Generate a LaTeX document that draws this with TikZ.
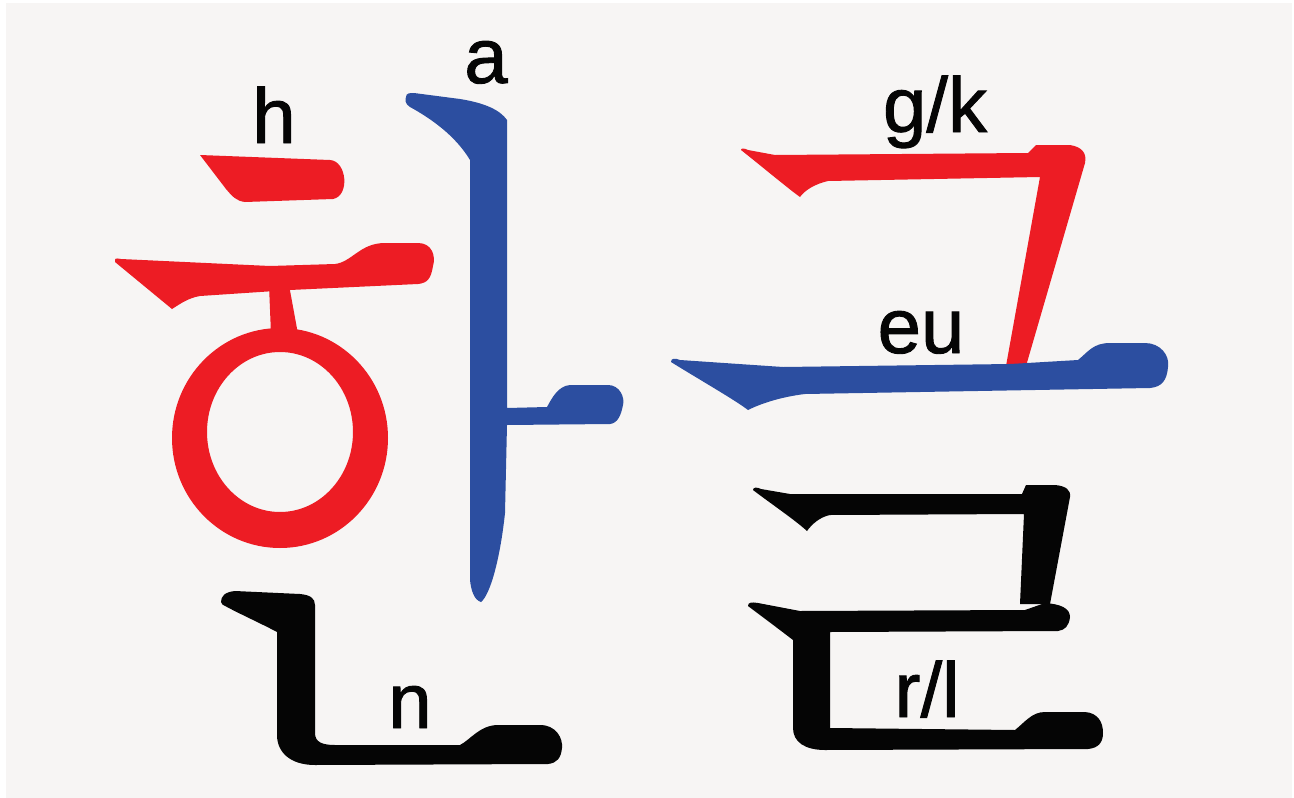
\documentclass[tikz,border=0pt]{standalone}
\usepackage{fontspec}
\setmainfont{Liberation Sans}
\newfontface\labelface{Liberation Sans}[FakeBold=1.2]
\definecolor{hred}{HTML}{ED1C24}
\definecolor{hblue}{HTML}{2C4EA0}
\definecolor{paper}{HTML}{F7F5F4}
\definecolor{ink}{HTML}{050505}
\tikzset{
  jamo red/.style={fill=hred},
  jamo blue/.style={fill=hblue},
  jamo black/.style={fill=ink},
  sound/.style={anchor=base, inner sep=0pt, font=\labelface\fontsize{78}{78}\selectfont, text=ink}
}
\begin{document}
\begin{tikzpicture}[x=1pt,y=-1pt]
\useasboundingbox (0,0) rectangle (1294,798);
\fill[white] (0,0) rectangle (1294,798);
\fill[paper] (6,3) rectangle (1292,798);

% ---- 한 ----
% ㅎ : short top dash
\fill[jamo red] (200,155) -- (330,160) .. controls (347,161) and (350,196) .. (333,199)
  -- (245,202) .. controls (236,201) and (232,196) .. (226,189) -- cycle;
% ㅎ : long horizontal with bulb on the right
\fill[jamo red] (115,262) .. controls (115,258) .. (121,259) -- (270,266) -- (335,264)
  .. controls (352,262) and (360,243) .. (385,243) -- (418,243)
  .. controls (432,243) and (436,256) .. (433,266)
  .. controls (431,278) and (428,283) .. (418,284) -- (290,290) -- (200,296)
  .. controls (188,298) and (180,304) .. (172,309) -- cycle;
% ㅎ : short neck down to the ring
\fill[jamo red] (269,285) -- (271,334) -- (298,334) -- (289,285) -- cycle;
% ㅎ : ring
\fill[jamo red, even odd rule] (280,438) ellipse [x radius=108pt, y radius=110pt]
  (280,432) ellipse [x radius=73pt, y radius=80pt];

% ㅏ
\fill[jamo blue] (406,97) .. controls (406,93) and (410,93) .. (414,93) -- (460,99)
  .. controls (485,103) and (500,110) .. (507,120) -- (507,408) -- (547,407)
  .. controls (552,398) and (558,386) .. (570,385) -- (608,385)
  .. controls (620,385) and (625,398) .. (623,405)
  .. controls (621,415) and (618,423) .. (610,424) -- (507,425) -- (505,513)
  .. controls (500,560) and (490,595) .. (481,602)
  .. controls (474,600) and (471,590) .. (470,580) -- (470,160)
  .. controls (455,135) and (430,118) .. (410,107)
  .. controls (405,104) and (405,100) .. (406,97) -- cycle;

% ㄴ
\fill[jamo black] (221,602) .. controls (221,596) and (225,592) .. (235,591) -- (300,594)
  .. controls (310,595) and (315,598) .. (315,605) -- (315,733)
  .. controls (315,742) and (322,745) .. (335,745) -- (460,745)
  .. controls (470,740) and (480,725) .. (498,725) -- (540,725)
  .. controls (556,725) and (563,738) .. (562,748)
  .. controls (561,758) and (557,763) .. (548,764) -- (315,765)
  .. controls (290,765) and (277,752) .. (277,735) -- (277,632)
  .. controls (262,624) and (240,614) .. (227,607)
  .. controls (223,605) and (221,604) .. (221,602) -- cycle;

% ---- 글 ----
% ㄱ
\fill[jamo red] (741,150) .. controls (741,148) and (744,148) .. (748,150) -- (775,155)
  -- (1028,153) -- (1036,145) -- (1070,145)
  .. controls (1082,147) and (1087,153) .. (1085,163) -- (1026,366) -- (1006,366)
  -- (1040,177) -- (828,181) .. controls (815,184) and (805,190) .. (800,197)
  .. controls (790,190) and (760,165) .. (741,150) -- cycle;
% ㅡ
\fill[jamo blue] (671,362) .. controls (671,358) and (675,358) .. (680,360) -- (783,367)
  -- (1010,364) -- (1078,360) .. controls (1088,352) and (1093,343) .. (1110,343)
  -- (1145,343) .. controls (1160,343) and (1170,355) .. (1168,367)
  .. controls (1167,380) and (1162,387) .. (1150,388) -- (805,394)
  .. controls (780,397) and (760,404) .. (748,410)
  .. controls (735,400) and (700,380) .. (671,362) -- cycle;
% ㄹ : top bar and right stem
\fill[jamo black] (753,490) .. controls (753,487) and (757,487) .. (761,489) -- (790,494)
  -- (1022,494) -- (1026,485) -- (1055,485)
  .. controls (1066,486) and (1071,490) .. (1070,497) -- (1050,604) -- (1020,604)
  -- (1024,514) -- (830,515) .. controls (820,517) and (812,524) .. (807,531)
  .. controls (795,520) and (770,503) .. (753,490) -- cycle;
% ㄹ : middle bar, left stem and bottom bar
\fill[jamo black] (748,606) .. controls (748,602) and (752,602) .. (758,603) -- (800,611)
  -- (1025,610) -- (1045,603) .. controls (1060,604) and (1070,608) .. (1070,617)
  .. controls (1069,626) and (1065,630) .. (1058,631) -- (830,632) -- (830,728)
  -- (1015,730) .. controls (1025,722) and (1032,712) .. (1045,712) -- (1085,712)
  .. controls (1098,713) and (1103,722) .. (1103,733)
  .. controls (1103,743) and (1098,748) .. (1088,749) -- (825,750)
  .. controls (805,750) and (793,742) .. (793,728) -- (793,640)
  .. controls (780,630) and (760,615) .. (748,606) -- cycle;

% sound labels
\node[sound] (h)  at (274,143) {h};
\node[sound] (a)  at (486,83)  {a};
\node[sound] (gk) at (935,132) {g/k};
\node[sound] (eu) at (921,353) {eu};
\node[sound] (n)  at (410,728) {n};
\node[sound] (rl) at (927,717) {r/l};
\end{tikzpicture}
\end{document}
